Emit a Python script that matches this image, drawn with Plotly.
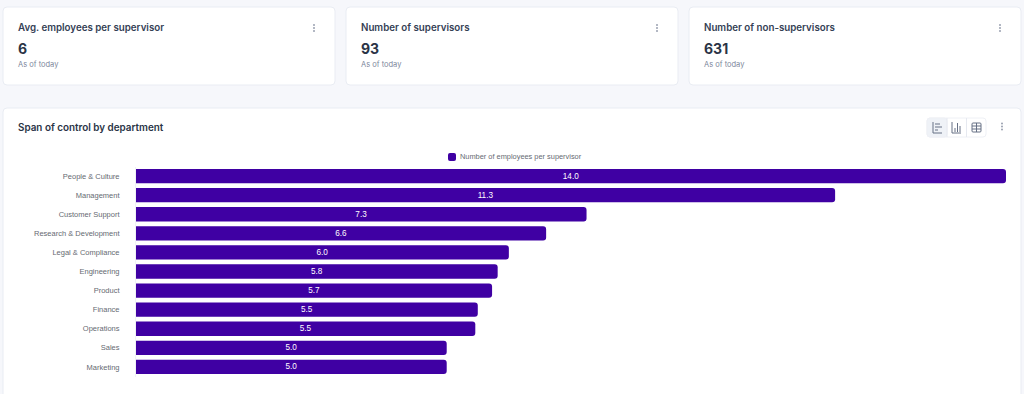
import plotly.graph_objects as go

departments = ["People & Culture", "Management", "Customer Support", "Research & Development",
               "Legal & Compliance", "Engineering", "Product", "Finance", "Operations", "Sales", "Marketing"]
values = [14.0, 11.25, 7.25, 6.6, 6.0, 5.82, 5.73, 5.5, 5.46, 5.0, 5.0]
labels = ["14.0", "11.3", "7.3", "6.6", "6.0", "5.8", "5.7", "5.5", "5.5", "5.0", "5.0"]
series_name = "Number of employees per supervisor"
card_titles = ["Avg. employees per supervisor", "Number of supervisors", "Number of non-supervisors"]
card_values = ["6", "93", "631"]
card_note = "As of today"
chart_title = "Span of control by department"

W, H = 1024, 394
BG, BORDER = "#f6f7fb", "#e9ecf3"
INK, INK2, MUTED = "#2a3446", "#344054", "#7d879c"
BAR = "#3f00a3"

def px(x): return x / W
def py(y): return 1 - y / H

def rrect(x0, y0, x1, y1, r=4):
    X = px
    Y = py
    return (f"M{X(x0+r)},{Y(y0)} L{X(x1-r)},{Y(y0)} Q{X(x1)},{Y(y0)} {X(x1)},{Y(y0+r)} "
            f"L{X(x1)},{Y(y1-r)} Q{X(x1)},{Y(y1)} {X(x1-r)},{Y(y1)} L{X(x0+r)},{Y(y1)} "
            f"Q{X(x0)},{Y(y1)} {X(x0)},{Y(y1-r)} L{X(x0)},{Y(y0+r)} Q{X(x0)},{Y(y0)} {X(x0+r)},{Y(y0)} Z")

shapes, annots = [], []

def box(x0, y0, x1, y1, r=4, fill="#ffffff", line=BORDER, lw=1):
    shapes.append(dict(type="path", path=rrect(x0, y0, x1, y1, r), xref="paper", yref="paper",
                       fillcolor=fill, line=dict(color=line, width=lw), layer="below"))

def seg(x0, y0, x1, y1, color="#667085", lw=1):
    shapes.append(dict(type="line", xref="paper", yref="paper", x0=px(x0), y0=py(y0), x1=px(x1), y1=py(y1),
                       line=dict(color=color, width=lw), layer="above"))

def dots(x, y, color="#9aa1b0"):
    for d in (-3, 0, 3):
        shapes.append(dict(type="circle", xref="paper", yref="paper",
                           x0=px(x - 1), x1=px(x + 1), y0=py(y + d + 1), y1=py(y + d - 1),
                           fillcolor=color, line=dict(width=0), layer="above"))

def label(x, y, text, size, color, weight=400, family="Inter"):
    annots.append(dict(xref="paper", yref="paper", x=px(x - 2), y=py(y), text=text, showarrow=False,
                       xanchor="left", yanchor="middle", align="left",
                       font=dict(family=family, size=size, color=color, weight=weight)))

for x0, title, value in zip((3, 346, 689), card_titles, card_values):
    box(x0, 7, x0 + 332, 85)
    label(x0 + 15, 28, title, 9.75, INK2, 600)
    label(x0 + 15, 49, value, 14, INK, 700)
    label(x0 + 15, 64.5, card_note, 7.5, MUTED)
    dots(x0 + 311, 28)

box(3, 108, 1021, 420)
label(18, 127.5, chart_title, 9.9, INK, 600)
dots(1002, 126.5)

# View switcher
box(927, 118, 986, 137, 3, "#ffffff", "#eef0f5")
box(927, 118, 947, 137, 3, "#eff2f7", "#eef0f5")
seg(947, 118, 947, 137, "#e6e9f0")
seg(966.5, 118, 966.5, 137, "#e6e9f0")
seg(933, 122, 933, 133); seg(933, 133, 942, 133)
seg(935, 124, 940, 124); seg(935, 127, 942, 127); seg(935, 130, 938, 130)
seg(952, 122, 952, 133); seg(952, 133, 961, 133)
seg(955, 128, 955, 132); seg(957.5, 123, 957.5, 132); seg(960, 126, 960, 132)
box(972, 123, 981, 132, 1, "rgba(0,0,0,0)", "#667085")
seg(972, 126, 981, 126); seg(972, 129, 981, 129); seg(976.5, 123, 976.5, 132)

# Legend
box(448, 153, 456, 161, 2, BAR, BAR, 0)
label(459.5, 157, series_name, 7.4, "#666a72", 400, "Liberation Sans")

fig = go.Figure(go.Bar(
    y=departments, x=values, orientation="h", name=series_name,
    marker=dict(color=BAR, line=dict(width=0)),
    text=labels, textposition="inside", insidetextanchor="middle", textangle=0,
    constraintext="none",
    textfont=dict(family="Liberation Sans", size=8.2, color="#ffffff", weight=400),
    cliponaxis=False, showlegend=False,
))

fig.update_layout(
    width=W, height=H, margin=dict(l=0, r=0, t=0, b=0),
    paper_bgcolor=BG, plot_bgcolor="rgba(0,0,0,0)",
    bargap=0.25, barcornerradius=3,
    shapes=shapes, annotations=annots,
    font=dict(family="Liberation Sans"),
    xaxis=dict(domain=[px(136), px(1006)], range=[0, 14], visible=False, fixedrange=True),
    yaxis=dict(domain=[py(376.5), py(166.5)], autorange="reversed", showgrid=False, zeroline=False,
               showline=True, linecolor="#f1f2f6", linewidth=1, ticks="", ticklabelstandoff=14,
               tickfont=dict(family="Liberation Sans", size=7.5, color="#666a72"), fixedrange=True),
)

fig.write_html("out.html", config=dict(displayModeBar=False),
               post_script="document.body.style.margin='0';document.body.style.overflow='hidden';")
